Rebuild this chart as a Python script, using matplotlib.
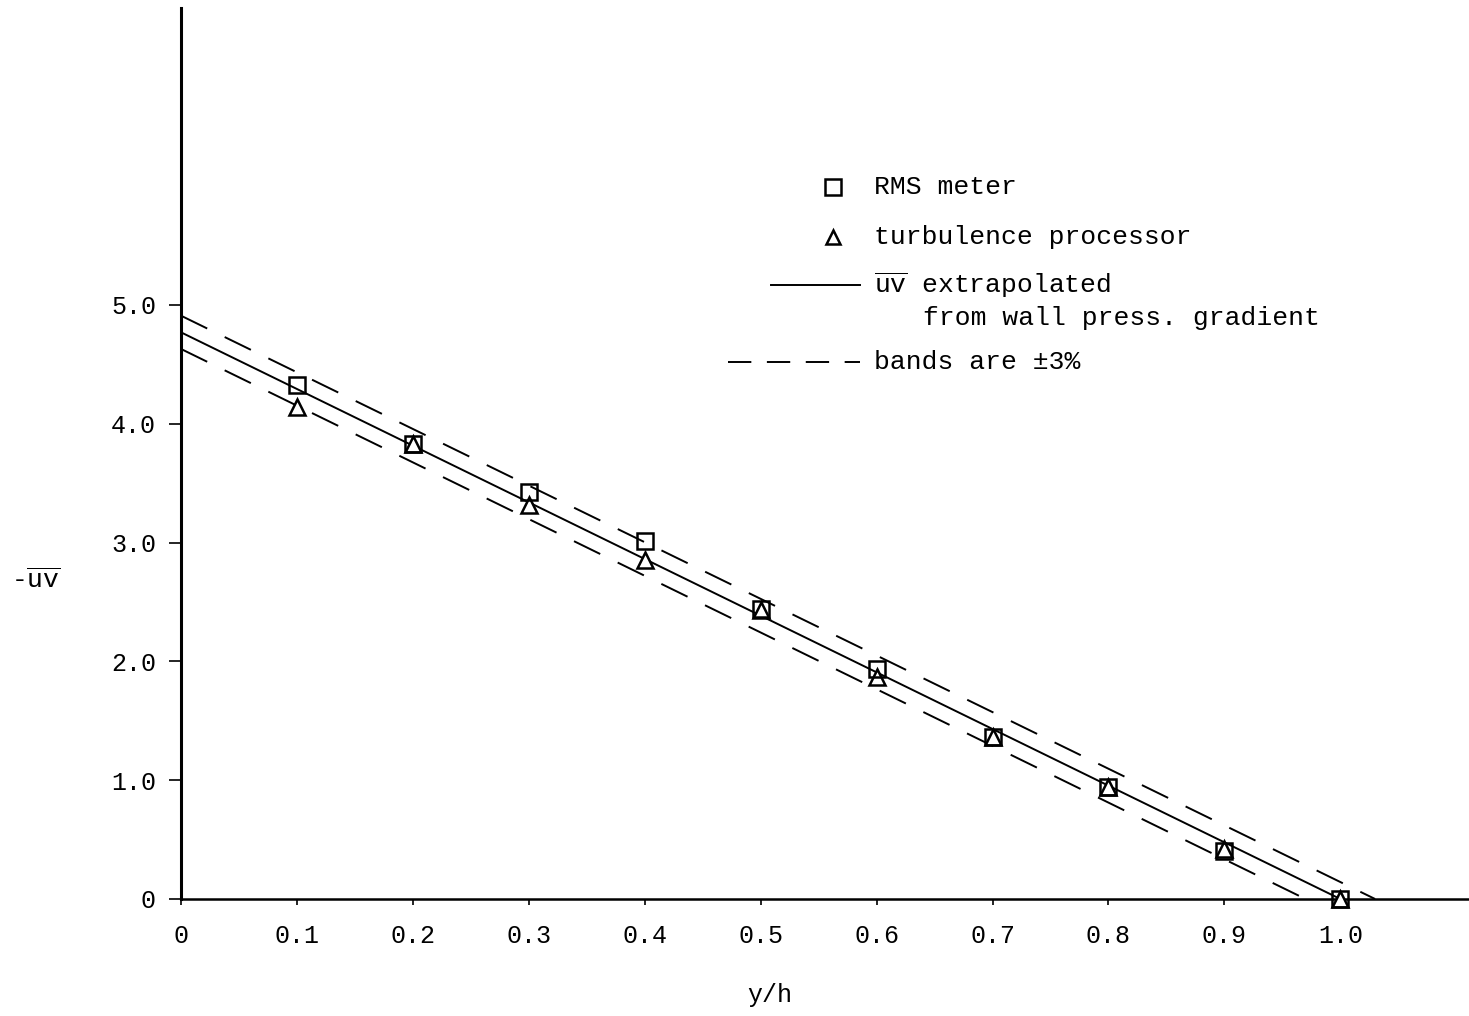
import matplotlib
matplotlib.use("Agg")
import matplotlib.pyplot as plt

plt.rcParams['font.family'] = ['Liberation Mono', 'DejaVu Sans Mono']
plt.rcParams['mathtext.fontset'] = 'custom'
plt.rcParams['mathtext.rm'] = 'Liberation Mono'
plt.rcParams['mathtext.it'] = 'Liberation Mono'

# data
y_h = [0.1, 0.2, 0.3, 0.4, 0.5, 0.6, 0.7, 0.8, 0.9, 1.0]
rms_meter = [4.33, 3.83, 3.43, 3.01, 2.44, 1.94, 1.36, 0.94, 0.40, 0.0]
turb_proc = [4.14, 3.83, 3.32, 2.85, 2.43, 1.87, 1.36, 0.94, 0.42, 0.0]

# extrapolated line and +/-3% bands (end points)
line_x = [0.0, 1.0]
line_y = [4.77, 0.0]
upper_x = [0.0, 1.03]
upper_y = [4.91, 0.0]
lower_x = [0.0, 0.97]
lower_y = [4.63, 0.0]

xticks = [0, 0.1, 0.2, 0.3, 0.4, 0.5, 0.6, 0.7, 0.8, 0.9, 1.0]
xticklabels = ['0', '0.1', '0.2', '0.3', '0.4', '0.5', '0.6', '0.7', '0.8', '0.9', '1.0']
yticks = [0, 1, 2, 3, 4, 5]
yticklabels = ['0', '1.0', '2.0', '3.0', '4.0', '5.0']

fig = plt.figure(figsize=(14.69, 10.16), dpi=100)
ax = fig.add_axes([181 / 1469, 117 / 1016, 1288 / 1469, 891 / 1016])

dash = (0, (15, 10))
ax.plot(line_x, line_y, color='black', lw=1.4)
ax.plot(upper_x, upper_y, color='black', lw=1.4, linestyle=dash)
ax.plot(lower_x, lower_y, color='black', lw=1.4, linestyle=dash)

ax.plot(y_h, turb_proc, linestyle='none', marker='^', markersize=11,
        markerfacecolor='white', markeredgecolor='black', markeredgewidth=1.8,
        clip_on=False, zorder=3)
ax.plot(y_h, rms_meter, linestyle='none', marker='s', markersize=11,
        markerfacecolor='none', markeredgecolor='black', markeredgewidth=1.8,
        clip_on=False, zorder=3)

ax.set_xlim(0, 1.111)
ax.set_ylim(0, 7.5)
ax.spines['top'].set_visible(False)
ax.spines['right'].set_visible(False)
ax.spines['left'].set_linewidth(2.2)
ax.spines['bottom'].set_linewidth(1.8)

ax.set_xticks(xticks)
ax.set_xticklabels(xticklabels)
ax.set_yticks(yticks)
ax.set_yticklabels(yticklabels)
ax.tick_params(axis='x', direction='out', length=4, width=1.2, pad=14, labelsize=18)
ax.tick_params(axis='y', direction='out', length=9, width=1.2, pad=9, labelsize=18)

# legend drawn by hand to follow the original layout
fs = 19
tx = (874 - 181) / 1288
mx = (833 - 181) / 1288
ax.plot([mx], [0.7991], transform=ax.transAxes, marker='s', markersize=11,
        markerfacecolor='none', markeredgecolor='black', markeredgewidth=1.8, clip_on=False)
ax.text(tx, 0.7991, 'RMS meter', transform=ax.transAxes, fontsize=fs, va='center')
ax.plot([mx], [0.743], transform=ax.transAxes, marker='^', markersize=10,
        markerfacecolor='none', markeredgecolor='black', markeredgewidth=1.8, clip_on=False)
ax.text(tx, 0.743, 'turbulence processor', transform=ax.transAxes, fontsize=fs, va='center')
ax.plot([0.458, 0.527], [0.689, 0.689], transform=ax.transAxes, color='black', lw=1.4)
ax.text(tx, 0.689, r'$\overline{\mathrm{uv}}$ extrapolated', transform=ax.transAxes,
        fontsize=fs, va='center')
ax.text((923 - 181) / 1288, 0.652, 'from wall press. gradient', transform=ax.transAxes,
        fontsize=fs, va='center')
ax.plot([0.4247, 0.527], [0.6027, 0.6027], transform=ax.transAxes, color='black', lw=1.4,
        linestyle=(0, (12, 8)))
ax.text(tx, 0.6027, 'bands are ±3%', transform=ax.transAxes, fontsize=fs, va='center')

fig.text(36 / 1469, 1 - 580 / 1016, r'-$\overline{\mathrm{uv}}$', fontsize=19,
         ha='center', va='center')
fig.text(770 / 1469, 1 - 995 / 1016, 'y/h', fontsize=18, ha='center', va='center')

fig.savefig('out.png', dpi=100)
